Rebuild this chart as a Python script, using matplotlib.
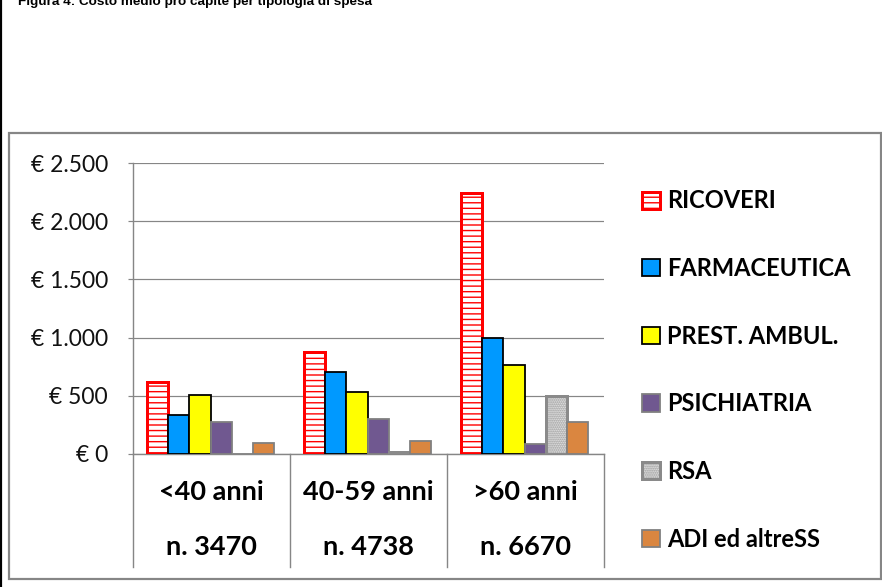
import matplotlib
matplotlib.use("Agg")
import matplotlib.pyplot as plt
import numpy as np
from matplotlib.patches import Rectangle
from matplotlib.lines import Line2D
from matplotlib.ticker import FuncFormatter, MultipleLocator
from matplotlib.transforms import blended_transform_factory

# Age classes (first label row) and number of people (second label row)
age_groups = ["<40 anni", "40-59 anni", ">60 anni"]
population = ["n. 3470", "n. 4738", "n. 6670"]

# Per-capita expenditure (EUR) by spending type
series_names = ["RICOVERI", "FARMACEUTICA", "PREST. AMBUL.", "PSICHIATRIA", "RSA", "ADI ed altreSS"]
ricoveri = [615, 875, 2245]
farmaceutica = [335, 705, 995]
prest_ambul = [505, 530, 765]
psichiatria = [275, 300, 85]
rsa = [0, 15, 500]
adi = [95, 110, 275]
series_values = [ricoveri, farmaceutica, prest_ambul, psichiatria, rsa, adi]

W, H = 882, 587
DPI = 100
fig = plt.figure(figsize=(W / DPI, H / DPI), dpi=DPI)
fig.patch.set_facecolor("white")

def px(v):
    # pixels -> points
    return v * 72 / DPI

GRID = "#868686"
FONT = "Lato"

# plot area placement
x0, x1, ytop, ybot = 133, 604, 163, 454
ax = fig.add_axes([x0 / W, (H - ybot) / H, (x1 - x0) / W, (ybot - ytop) / H])

styles = [
    dict(facecolor="white", edgecolor="#ff0000", hatch="---", linewidth=px(3)),
    dict(facecolor="#0099ff", edgecolor="black", linewidth=px(1.8)),
    dict(facecolor="#ffff00", edgecolor="black", linewidth=px(1.8)),
    dict(facecolor="#705890", edgecolor="#808080", linewidth=px(1.8)),
    dict(facecolor="#f2f2f2", edgecolor="#8a8a8a", hatch="........", linewidth=px(3)),
    dict(facecolor="#da8640", edgecolor="#808080", linewidth=px(1.8)),
]

n = len(series_names)
bw = 0.135
xc = np.arange(len(age_groups))
handles = []
for i, (vals, st) in enumerate(zip(series_values, styles)):
    off = (i - (n - 1) / 2) * bw - 0.006
    bars = ax.bar(xc + off, vals, width=bw, zorder=3, **st)
    handles.append(bars)

ax.set_xlim(-0.5, 2.5)
ax.set_ylim(0, 2500)
ax.yaxis.set_major_locator(MultipleLocator(500))
ax.yaxis.set_major_formatter(FuncFormatter(lambda v, p: "€ " + f"{v:,.0f}".replace(",", ".")))
ax.grid(axis="y", color=GRID, linewidth=px(1.2), zorder=0)
ax.set_axisbelow(True)
for s in ["top", "right"]:
    ax.spines[s].set_visible(False)
for s in ["left", "bottom"]:
    ax.spines[s].set_color(GRID)
    ax.spines[s].set_linewidth(px(1.4))
ax.set_xticks([])
ax.tick_params(axis="y", length=px(5), width=px(1.2), color=GRID, pad=px(20),
               labelsize=16.5, labelcolor="#111111")
for t in ax.get_yticklabels():
    t.set_fontfamily(FONT)

# two-row category labels and separators below the axis
tr = blended_transform_factory(ax.transData, fig.transFigure)
for xi, (a, p) in enumerate(zip(age_groups, population)):
    fig.text(xi, (H - 492) / H, a, transform=tr, ha="center", va="center",
             fontsize=19.5, fontweight="bold", family=FONT)
    fig.text(xi, (H - 547) / H, p, transform=tr, ha="center", va="center",
             fontsize=19.5, fontweight="bold", family=FONT)
for xs in np.arange(-0.5, len(age_groups), 1.0):
    fig.add_artist(Line2D([xs, xs], [(H - 454) / H, (H - 567) / H], transform=tr,
                          color=GRID, linewidth=px(1.4)))

# legend
leg = fig.legend(handles, series_names, loc="upper left",
                 bbox_to_anchor=(633 / W, 1 - 180 / H), frameon=False,
                 prop=dict(family=FONT, weight="bold", size=17),
                 handlelength=0.75, handleheight=0.75, handletextpad=0.3,
                 labelspacing=1.89, borderaxespad=0)

# chart frame and left rule
fig.add_artist(Rectangle((9 / W, (H - 579) / H), (881 - 9) / W, (579 - 133) / H,
                         transform=fig.transFigure, fill=False,
                         edgecolor=GRID, linewidth=px(2.2)))
fig.add_artist(Line2D([1.2 / W, 1.2 / W], [0, 1], transform=fig.transFigure,
                      color="black", linewidth=px(2.2)))

# figure caption (runs off the top edge)
fig.text(18 / W, 1 - 5 / H, "Figura 4: Costo medio pro capite per tipologia di spesa",
         ha="left", va="baseline", fontsize=9.7, fontweight="bold",
         family="Liberation Sans")

fig.savefig("out.png", dpi=DPI)
